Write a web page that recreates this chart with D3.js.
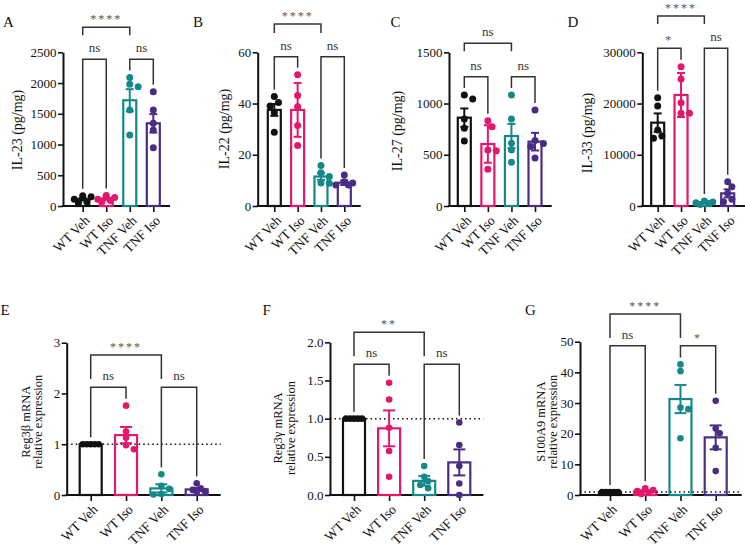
<!DOCTYPE html>
<html>
<head>
<meta charset="utf-8">
<script src="https://cdn.jsdelivr.net/npm/d3@7"></script>
<style>
  body { margin: 0; background: #fff; }
  text { font-family: "Liberation Serif", "DejaVu Serif", serif; }
</style>
</head>
<body>
<svg id="fig" width="745" height="551"></svg>
<script>
const groups = ["WT Veh", "WT Iso", "TNF Veh", "TNF Iso"];

// A: IL-23
const il23Points = [[165, 150, 110, 70, 55], [170, 140, 110, 90, 75], [2090, 1980, 1940, 1560, 1155], [1860, 1560, 1345, 1236, 948]];
const il23Mean = [110, 117, 1720, 1345];
const il23Sem = [20, 18, 180, 150];
const il23Ticks = [0, 500, 1000, 1500, 2000, 2500];

// B: IL-22
const il22Points = [[42.7, 40.4, 39, 36.5, 28.8], [51.2, 43.1, 38.7, 31.4, 23.6], [15.8, 13, 11.5, 9, 8.9], [12.1, 9.5, 9, 8.2, 8.2]];
const il22Mean = [37.5, 37.5, 11.5, 9.1];
const il22Sem = [2.3, 10.5, 1.3, 0.9];
const il22Ticks = [0, 20, 40, 60];

// C: IL-27
const il27Points = [[1084, 1044, 850, 760, 635], [833, 774, 547, 540, 358], [1084, 849, 612, 547, 426], [937, 640, 610, 580, 469]];
const il27Mean = [862, 605, 683, 628];
const il27Sem = [90, 183, 118, 86];
const il27Ticks = [0, 500, 1000, 1500];

// D: IL-33
const il33Points = [[21150, 19520, 14840, 13670, 13210], [27200, 24790, 20170, 18090, 18090], [1000, 800, 650, 500, 300], [4750, 3770, 2470, 1300, 850]];
const il33Mean = [16270, 21670, 650, 2470];
const il33Sem = [1800, 4300, 130, 790];
const il33Ticks = [0, 10000, 20000, 30000];

// E: Reg3b
const reg3bPoints = [[1, 1, 1, 1, 1], [1.76, 1.25, 1.13, 0.98, 0.9], [0.41, 0.18, 0.12, 0.02, 0.01], [0.23, 0.13, 0.1, 0.08, 0.06]];
const reg3bMean = [1, 1.18, 0.13, 0.11];
const reg3bSem = [0, 0.16, 0.08, 0.03];
const reg3bTicks = [0, 1, 2, 3];

// F: Reg3g
const reg3gPoints = [[1, 1, 1, 1, 1], [1.47, 1.25, 0.88, 0.576, 0.24], [0.38, 0.24, 0.18, 0.13, 0.09], [0.95, 0.655, 0.38, 0.15, 0.0]];
const reg3gMean = [1, 0.873, 0.185, 0.427];
const reg3gSem = [0, 0.235, 0.062, 0.17];
const reg3gTicks = [0, 0.5, 1, 1.5, 2];

// G: S100A9
const s100a9Points = [[1, 1, 1, 1, 1], [2.2, 1.6, 1.3, 0.8, 0.3], [42.6, 40.4, 28.5, 28, 18.5], [30.7, 21.7, 20.1, 15.4, 7.8]];
const s100a9Mean = [1, 1.2, 31.3, 18.8];
const s100a9Sem = [0, 0.35, 4.6, 3.9];
const s100a9Ticks = [0, 10, 20, 30, 40, 50];

// comparisons [from, to, label] : upper one first
const sigA = [[0, 2, "****"], [0, 1, "ns"], [2, 3, "ns"]];
const sigB = [[0, 2, "****"], [0, 1, "ns"], [2, 3, "ns"]];
const sigC = [[0, 2, "ns"], [0, 1, "ns"], [2, 3, "ns"]];
const sigD = [[0, 2, "****"], [0, 1, "*"], [2, 3, "ns"]];
const sigE = [[0, 2, "****"], [0, 1, "ns"], [2, 3, "ns"]];
const sigF = [[0, 2, "**"], [0, 1, "ns"], [2, 3, "ns"]];
const sigG = [[0, 2, "****"], [0, 1, "ns"], [2, 3, "*"]];

const colors = ["#111111", "#e3176b", "#15898a", "#4b2c83"];

const svg = d3.select("#fig");

// simple beeswarm so close values spread sideways
function swarm(vals, y, r) {
  const placed = [];
  const step = r * 1.2, minD = r * 1.8;
  const cands = [0, step, -step, 2 * step, -2 * step];
  vals.forEach(v => {
    const py = y(v);
    let best = 0, bestD = -1;
    for (const c of cands) {
      const d = placed.length ? d3.min(placed, p => Math.hypot(p.dx - c, p.py - py)) : Infinity;
      if (d >= minD) { best = c; break; }
      if (d > bestD) { bestD = d; best = c; }
    }
    placed.push({ v, py, dx: best });
  });
  return placed;
}

function drawPanel(p) {
  const g = svg.append("g");
  const y = d3.scaleLinear().domain([0, d3.max(p.ticks)]).range([p.y0, p.y1]);
  const x = d3.scalePoint().domain(groups).range([p.c0, p.c1]);

  // letter
  g.append("text").attr("x", p.letter[0]).attr("y", p.letter[1])
    .style("font-size", "15px").attr("fill", "#111").text(p.name);

  // y axis
  const ya = g.append("g").attr("transform", `translate(${p.ax},0)`)
    .call(d3.axisLeft(y).tickValues(p.ticks).tickSize(5).tickPadding(1.5).tickSizeOuter(0).tickFormat(p.fmt));
  ya.select(".domain").attr("stroke", "#111").attr("stroke-width", 2);
  ya.selectAll(".tick line").attr("stroke", "#111").attr("stroke-width", 1.6);
  ya.selectAll(".tick text").style("font-size", "13px").attr("fill", "#111")
    .style("font-family", "'Liberation Serif', serif");

  // x axis
  const xa = g.append("g").attr("transform", `translate(0,${p.y0})`)
    .call(d3.axisBottom(x).tickSize(6).tickSizeOuter(0));
  xa.select(".domain").attr("d", `M${p.ax - 1},0H${p.xEnd}`).attr("stroke", "#111").attr("stroke-width", 2);
  xa.selectAll(".tick line").attr("stroke", "#111").attr("stroke-width", 1.6);
  xa.selectAll(".tick text")
    .attr("x", 0).attr("y", 0).attr("dy", "0.35em")
    .attr("transform", "translate(4,12) rotate(-45)")
    .attr("text-anchor", "end")
    .attr("fill", "#111")
    .style("font-size", "13.5px")
    .style("font-family", "'Liberation Serif', serif");

  // y title
  p.title.forEach((t, i) => {
    g.append("text")
      .attr("transform", `translate(${p.tx[i]},${p.ty}) rotate(-90)`)
      .attr("text-anchor", "middle").attr("dy", "0.35em")
      .style("font-size", p.title.length > 1 ? "12.5px" : "14px")
      .attr("fill", "#111")
      .text(t);
  });

  // bars
  g.selectAll("rect.bar").data(p.mean).join("rect")
    .attr("x", (d, i) => x(groups[i]) - p.bw / 2)
    .attr("y", d => y(d))
    .attr("width", p.bw)
    .attr("height", d => p.y0 - y(d))
    .attr("fill", "none")
    .attr("stroke", (d, i) => colors[i])
    .attr("stroke-width", 2.2);

  // dotted reference line
  if (p.ref != null) {
    g.append("line").attr("x1", p.ax).attr("x2", p.xEnd)
      .attr("y1", y(p.ref)).attr("y2", y(p.ref))
      .attr("stroke", "#111").attr("stroke-width", 1.5).attr("stroke-dasharray", "1.5,3");
  }

  // points
  p.points.forEach((vals, i) => {
    const cx = x(groups[i]);
    g.selectAll(null).data(swarm(vals, y, p.r)).join("circle")
      .attr("cx", d => cx + d.dx).attr("cy", d => d.py).attr("r", p.r)
      .attr("fill", colors[i]);
  });

  // error bars (mean ± SEM)
  p.mean.forEach((m, i) => {
    if (!p.sem[i]) return;
    const cx = x(groups[i]);
    const lo = y(m - p.sem[i]), hi = y(m + p.sem[i]);
    const eg = g.append("g").attr("stroke", colors[i]).attr("stroke-width", 2);
    eg.append("line").attr("x1", cx).attr("x2", cx).attr("y1", lo).attr("y2", hi);
    eg.append("line").attr("x1", cx - p.cap / 2).attr("x2", cx + p.cap / 2).attr("y1", hi).attr("y2", hi);
    eg.append("line").attr("x1", cx - p.cap / 2).attr("x2", cx + p.cap / 2).attr("y1", lo).attr("y2", lo);
  });

  // brackets
  const top = p.points.map((vals, i) => y(Math.max(d3.max(vals), p.mean[i] + p.sem[i])) - 7);
  p.sig.forEach(([a, b, label], k) => {
    const upper = k === 0;
    const yb = upper ? p.upper : p.lower;
    const xa0 = x(groups[a]), xb0 = x(groups[b]);
    const la = upper ? yb + p.upperLeg : top[a];
    const lb = upper ? yb + p.upperLeg : top[b];
    g.append("path")
      .attr("d", `M${xa0},${la}V${yb}H${xb0}V${lb}`)
      .attr("fill", "none").attr("stroke", "#333").attr("stroke-width", 1.5);
    const star = label.includes("*");
    g.append("text")
      .attr("x", (xa0 + xb0) / 2).attr("y", star ? yb - 4 : yb - 7)
      .attr("text-anchor", "middle")
      .attr("fill", star ? "#555" : "#333")
      .style("font-size", star ? "12px" : "13px")
      .style("letter-spacing", star ? "2px" : "0px")
      .text(label);
  });
}

const intFmt = d3.format("d");
const top0 = 206, top1 = 52.3, bot0 = 495;

drawPanel({ name: "A", points: il23Points, mean: il23Mean, sem: il23Sem, ticks: il23Ticks, sig: sigA, fmt: intFmt,
  title: ["IL-23 (pg/mg)"], tx: [17], ty: 130, letter: [3, 26.5],
  ax: 63, c0: 82.7, c1: 153.3, xEnd: 170, y0: top0, y1: top1, bw: 13, r: 3.5, cap: 8,
  lower: 59.3, upper: 27.3, upperLeg: 8 });

drawPanel({ name: "B", points: il22Points, mean: il22Mean, sem: il22Sem, ticks: il22Ticks, sig: sigB, fmt: intFmt,
  title: ["IL-22 (pg/mg)"], tx: [224.3], ty: 129, letter: [193, 26.5],
  ax: 257.7, c0: 274.3, c1: 344.3, xEnd: 360.7, y0: top0, y1: top1, bw: 13, r: 3.5, cap: 8,
  lower: 56.7, upper: 24, upperLeg: 9 });

drawPanel({ name: "C", points: il27Points, mean: il27Mean, sem: il27Sem, ticks: il27Ticks, sig: sigC, fmt: intFmt,
  title: ["IL-27 (pg/mg)"], tx: [397.3], ty: 131, letter: [390.5, 26.5],
  ax: 449, c0: 464.3, c1: 535, xEnd: 551.7, y0: top0, y1: top1, bw: 13, r: 3.5, cap: 8,
  lower: 76.7, upper: 43.3, upperLeg: 8 });

drawPanel({ name: "D", points: il33Points, mean: il33Mean, sem: il33Sem, ticks: il33Ticks, sig: sigD, fmt: intFmt,
  title: ["IL-33 (pg/mg)"], tx: [586.7], ty: 133, letter: [567.5, 26.5],
  ax: 642.3, c0: 657.7, c1: 727.7, xEnd: 745, y0: top0, y1: top1, bw: 13, r: 3.5, cap: 8,
  lower: 48.3, upper: 16, upperLeg: 8 });

drawPanel({ name: "E", points: reg3bPoints, mean: reg3bMean, sem: reg3bSem, ticks: reg3bTicks, sig: sigE, fmt: intFmt,
  title: ["Reg3β mRNA", "relative expression"], tx: [25.5, 38], ty: 421.7, letter: [0.5, 315], ref: 1,
  ax: 66.7, c0: 90.7, c1: 196.7, xEnd: 220.7, y0: bot0, y1: 342.7, bw: 22, r: 3.3, cap: 12,
  lower: 387.3, upper: 355, upperLeg: 24 });

drawPanel({ name: "F", points: reg3gPoints, mean: reg3gMean, sem: reg3gSem, ticks: reg3gTicks, sig: sigF, fmt: d3.format(".1f"),
  title: ["Reg3γ mRNA", "relative expression"], tx: [278, 290.5], ty: 428, letter: [262.5, 315], ref: 1,
  ax: 330, c0: 354, c1: 459.3, xEnd: 483.3, y0: bot0, y1: 342.3, bw: 22, r: 3.3, cap: 12,
  lower: 364.3, upper: 332.3, upperLeg: 24 });

drawPanel({ name: "G", points: s100a9Points, mean: s100a9Mean, sem: s100a9Sem, ticks: s100a9Ticks, sig: sigG, fmt: intFmt,
  title: ["S100A9 mRNA", "relative expression"], tx: [540.5, 552.5], ty: 421.7, letter: [525, 315], ref: 1,
  ax: 580, c0: 610, c1: 715.7, xEnd: 741.7, y0: bot0, y1: 341.7, bw: 22, r: 3.3, cap: 12,
  lower: 345.7, upper: 314, upperLeg: 24 });
</script>
</body>
</html>
